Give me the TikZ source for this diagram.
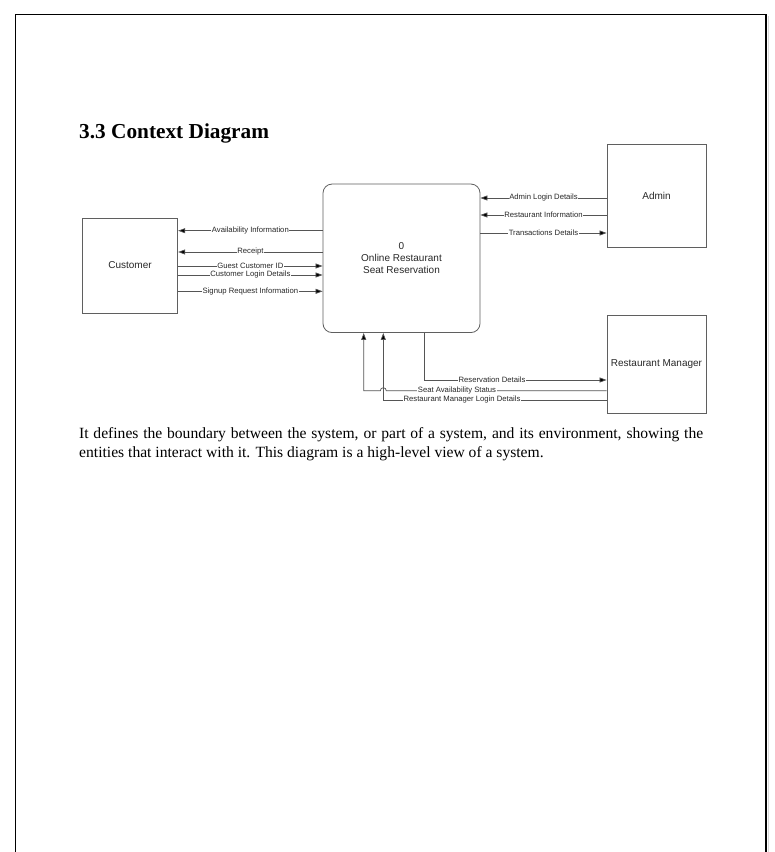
\documentclass[tikz,border=0pt]{standalone}
\usepackage{fontspec}
\setmainfont{Liberation Serif}
\newfontfamily\diagfont{Liberation Sans}
\usetikzlibrary{arrows.meta,calc}
\definecolor{linegray}{RGB}{85,85,85}
\definecolor{boxgray}{RGB}{95,95,95}
\definecolor{txtgray}{RGB}{40,40,40}
\tikzset{
  entity/.style={draw=boxgray,line width=0.8pt,fill=white,inner sep=0pt,
    font=\diagfont\fontsize{10}{12}\selectfont,text=txtgray,align=center},
  procbox/.style={entity,rounded corners=9pt},
  flow/.style={draw=linegray,line width=0.7pt,
    -{Triangle[length=7pt,width=5pt,fill=black]}},
  flowlabel/.style={fill=white,inner sep=0.6pt,text=txtgray,
    font=\diagfont\fontsize{7.7}{8.5}\selectfont}
}
\begin{document}
\begin{tikzpicture}[x=1pt,y=-1pt]
\useasboundingbox (0,0) rectangle (775,852);
\fill[white] (0,0) rectangle (775,852);
% page frame
\draw[line width=1.1pt] (15.5,852) -- (15.5,14.5) -- (766,14.5) -- (766,852);
\draw[black!15,line width=1pt] (768,16) -- (768,852);

% heading
\node[anchor=base west,inner sep=0pt,font=\bfseries\fontsize{21.3}{24}\selectfont] (title) at (79,138) {3.3 Context Diagram};

% entities
\node[entity,minimum width=95.5pt,minimum height=95pt] (cust) at (130,265.5) {Customer};
\node[procbox,minimum width=157pt,minimum height=148.5pt] (proc) at (401.5,258.3) {0\\Online Restaurant\\Seat Reservation};
\node[entity,minimum width=99pt,minimum height=103pt] (admin) at (656.5,195.5) {};
\node[font=\diagfont\fontsize{10}{12}\selectfont,text=txtgray] (adminlbl) at (656.5,196) {Admin};
\node[entity,minimum width=99pt,minimum height=98pt] (rm) at (656.5,364) {Restaurant Manager};

% helper coordinates for flow levels
\coordinate (yAvail) at (0,230.7);
\coordinate (yReceipt) at (0,252);
\coordinate (yGuest) at (0,266);
\coordinate (yLogin) at (0,275);
\coordinate (ySignup) at (0,291.3);
\coordinate (yAdmLogin) at (0,198);
\coordinate (yRestInfo) at (0,215);
\coordinate (yTrans) at (0,233);
\coordinate (yResv) at (0,380);
\coordinate (ySeat) at (0,390.7);
\coordinate (yRmLogin) at (0,400);
\coordinate (xResv) at (424,0);
\coordinate (xSeat) at (363.7,0);
\coordinate (xRmLogin) at (383.3,0);

% customer flows
\draw[flow] (proc.west |- yAvail) -- node[flowlabel]{Availability Information} (cust.east |- yAvail);
\draw[flow] (proc.west |- yReceipt) -- node[flowlabel]{Receipt} (cust.east |- yReceipt);
\draw[flow] (cust.east |- yGuest) -- node[flowlabel]{Guest Customer ID} (proc.west |- yGuest);
\draw[flow] (cust.east |- yLogin) -- node[flowlabel]{Customer Login Details} (proc.west |- yLogin);
\draw[flow] (cust.east |- ySignup) -- node[flowlabel]{Signup Request Information} (proc.west |- ySignup);

% admin flows
\draw[flow] (admin.west |- yAdmLogin) -- node[flowlabel]{Admin Login Details} (proc.east |- yAdmLogin);
\draw[flow] (admin.west |- yRestInfo) -- node[flowlabel]{Restaurant Information} (proc.east |- yRestInfo);
\draw[flow] (proc.east |- yTrans) -- node[flowlabel]{Transactions Details} (admin.west |- yTrans);

% restaurant manager flows
\draw[flow] (proc.south -| xResv) -- (xResv |- yResv) -- (rm.west |- yResv);
\draw[flow] (rm.west |- yRmLogin) -- (xRmLogin |- yRmLogin) -- (proc.south -| xRmLogin);
\draw[flow] (rm.west |- ySeat) -- ($(xRmLogin |- ySeat)+(3,0)$)
  arc[start angle=0,end angle=-180,radius=3] -- (xSeat |- ySeat) -- (proc.south -| xSeat);
\node[flowlabel] (lResv) at (492,380) {Reservation Details};
\node[flowlabel] (lSeat) at (457,390.7) {Seat Availability Status};
\node[flowlabel] (lRmLogin) at (462,400) {Restaurant Manager Login Details};

% paragraph
\node[anchor=base west,inner sep=0pt,font=\fontsize{15.6}{18}\selectfont] (para1) at (79,438)
  {\makebox[624pt][s]{It defines the boundary between the system, or part of a system, and its environment, showing the}};
\node[anchor=base west,inner sep=0pt,font=\fontsize{15.6}{18}\selectfont] (para2) at (79,457.5)
  {entities that interact with it. This diagram is a high-level view of a system.};
\end{tikzpicture}
\end{document}
